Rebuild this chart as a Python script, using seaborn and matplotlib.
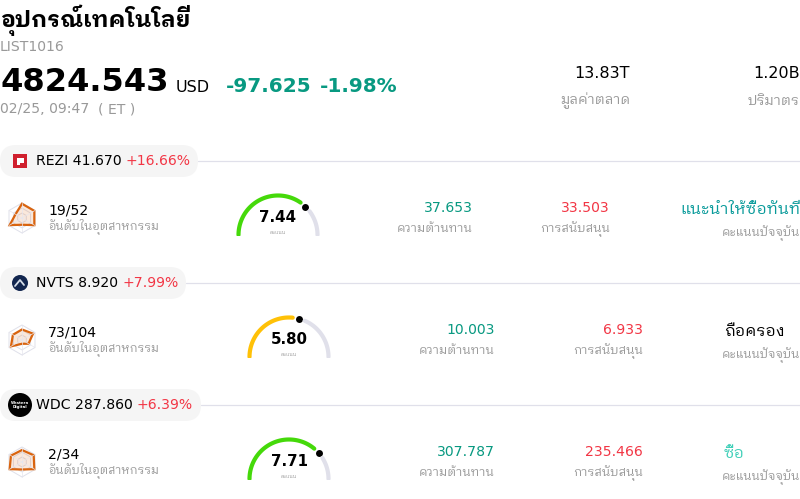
import numpy as np
import pandas as pd
import seaborn as sns
import matplotlib.pyplot as plt
from matplotlib.patches import FancyBboxPatch, Rectangle, Circle, Polygon

sns.set_theme(style="white")
plt.rcParams['font.family'] = ['DejaVu Sans', 'IBM Plex Sans Thai Looped', 'Noto Sans Thai Looped', 'Noto Sans Thai', 'Sarabun']

GREEN = '#089981'
RED = '#f23645'
GREY = '#999999'

# data
tickers = ['REZI', 'NVTS', 'WDC']
prices = ['41.670', '8.920', '287.860']
changes = ['+16.66%', '+7.99%', '+6.39%']
ranks = ['19/52', '73/104', '2/34']
scores = [7.44, 5.80, 7.71]
resistance = ['37.653', '10.003', '307.787']
support = ['33.503', '6.933', '235.466']
ratings = ['แนะนำให้ซื้อทันที', 'ถือครอง', 'ซื้อ']
rating_colors = ['#089a9a', '#000000', '#3fcfb8']
gauge_colors = ['#45d90a', '#ffc107', '#45d90a']
radar_values = [
    [0.95, 0.95, 0.95, 0.45, 0.95, 0.50],
    [0.70, 0.85, 0.50, 0.25, 0.85, 0.70],
    [0.80, 0.90, 0.95, 0.50, 0.95, 0.85],
]

# layout of each row, pixels
row_y = [161, 283, 405]
pill_w = [198, 186, 201]
gauge_x = [278, 289, 289]
res_x = [473, 495, 495]
sup_x = [610, 643, 643]

fig = plt.figure(figsize=(8, 4.99), dpi=100)
ax = fig.add_axes([0, 0, 1, 1])
ax.set_xlim(0, 800)
ax.set_ylim(499, 0)
ax.axis('off')


def px(size):
    return size * 0.72


def label(x, y, s, size, color='black', ha='left', weight='normal'):
    return ax.text(x, y, s, fontsize=px(size), color=color, ha=ha, va='center', weight=weight)


def arc(cx, cy, r, a0, a1, color):
    t = np.radians(np.linspace(a0, a1, 80))
    d = pd.DataFrame({'x': cx + r * np.cos(t), 'y': cy - r * np.sin(t)})
    sns.lineplot(data=d, x='x', y='y', sort=False, estimator=None, color=color, lw=3.0,
                 solid_capstyle='round', ax=ax)
    # bottom of the gauge is cut flat
    ax.lines[-1].set_clip_path(Rectangle((cx - 50, cy - 50), 100, 50.5, transform=ax.transData))


def radar(cx, cy, r, vals):
    ang = np.radians(90 - np.arange(6) * 60)
    for f in [0.33, 0.66, 1]:
        ax.add_patch(Polygon(np.c_[cx + f * r * np.cos(ang), cy - f * r * np.sin(ang)],
                             fill=False, ec='#dfe0ea', lw=0.7))
    for a in ang:
        ax.plot([cx, cx + r * np.cos(a)], [cy, cy - r * np.sin(a)], color='#e6e6ee', lw=0.5)
    v = np.array(vals)
    pts = np.c_[cx + v * r * np.cos(ang), cy - v * r * np.sin(ang)]
    ax.add_patch(Polygon(pts, fc='#e0660f', ec='none', alpha=0.15))
    ax.add_patch(Polygon(pts, fill=False, ec='#d9640f', lw=1.6))


# header
label(0, 20, 'อุปกรณ์เทคโนโลยี', 23, weight='bold')
label(0, 47, 'LIST1016', 14, GREY)
label(0, 82.5, '4824.543', 32.2, weight='bold')
label(176, 87, 'USD', 16)
label(226, 86, '-97.625', 20, GREEN, weight='bold')
label(320, 86, '-1.98%', 20, GREEN, weight='bold')
label(0, 109, '02/25, 09:47', 14, GREY)
label(98, 109, '( ET )', 14, GREY)
label(630, 73, '13.83T', 16, ha='right')
label(630, 101, 'มูลค่าตลาด', 14, GREY, ha='right')
label(800, 73, '1.20B', 16, ha='right')
label(800, 101, 'ปริมาตร', 14, GREY, ha='right')

for i, y in enumerate(row_y):
    # ticker pill
    ax.plot([pill_w[i], 800], [y, y], color='#e0e0ea', lw=0.9)
    ax.add_patch(FancyBboxPatch((0, y - 16), pill_w[i], 32,
                                boxstyle='round,pad=0,rounding_size=16',
                                fc='#f5f5f5', ec='none'))
    if i == 0:
        ax.add_patch(Rectangle((13, y - 7), 14, 14, fc='#d0202e', ec='none'))
        ax.add_patch(Rectangle((17, y - 3), 7, 5, fc='white', ec='none'))
        ax.add_patch(Rectangle((17, y - 3), 3, 7, fc='white', ec='none'))
    elif i == 1:
        ax.add_patch(Circle((20, y), 8, fc='#12264f', ec='none'))
        ax.plot([15, 20, 24], [y + 3, y - 3, y + 2], color='#d5dde8', lw=1.3)
    else:
        ax.add_patch(Circle((20, y), 12, fc='black', ec='none'))
        ax.text(20, y, 'Western\nDigital', fontsize=2.8, color='white', ha='center',
                va='center', weight='bold', linespacing=0.9)
    t = label(36, y, f'{tickers[i]} {prices[i]}', 14)
    w = t.get_window_extent(fig.canvas.get_renderer()).width
    label(36 + w + 4, y, changes[i], 14, RED)

    # rank + radar
    radar(22, y + 57, 15, radar_values[i])
    label(48, y + 49, ranks[i], 14)
    label(48, y + 66, 'อันดับในอุตสาหกรรม', 11.8, GREY)

    # gauge, half circle mapped from a 0-10 score
    cx, cy = gauge_x[i], y + 74
    pos = 180 * (1 - scores[i] / 10)
    arc(cx, cy, 39.5, 180, pos + 9, gauge_colors[i])
    arc(cx, cy, 39.5, pos - 9, 0, '#e0e0ea')
    sns.scatterplot(x=[cx + 39.5 * np.cos(np.radians(pos))],
                    y=[cy - 39.5 * np.sin(np.radians(pos))],
                    color='black', s=25, ax=ax, legend=False, linewidth=0)
    label(cx, y + 56, f'{scores[i]:.2f}', 15, ha='center', weight='bold')
    label(cx, y + 71, 'คะแนน', 5, GREY, ha='center')

    # levels and rating
    label(res_x[i], y + 47, resistance[i], 14, GREEN, ha='right')
    label(res_x[i], y + 68, 'ความต้านทาน', 12.2, GREY, ha='right')
    label(sup_x[i], y + 47, support[i], 14, RED, ha='right')
    label(sup_x[i], y + 68, 'การสนับสนุน', 12.2, GREY, ha='right')
    if i == 0:
        label(800, y + 49, ratings[i], 16, rating_colors[i], ha='right')
    else:
        label(724, y + 49, ratings[i], 16, rating_colors[i])
    label(800, y + 72, 'คะแนนปัจจุบัน', 12, GREY, ha='right')

ax.set_xlim(0, 800)
ax.set_ylim(499, 0)
ax.set_xlabel('')
ax.set_ylabel('')
fig.savefig('out.png', dpi=100)
